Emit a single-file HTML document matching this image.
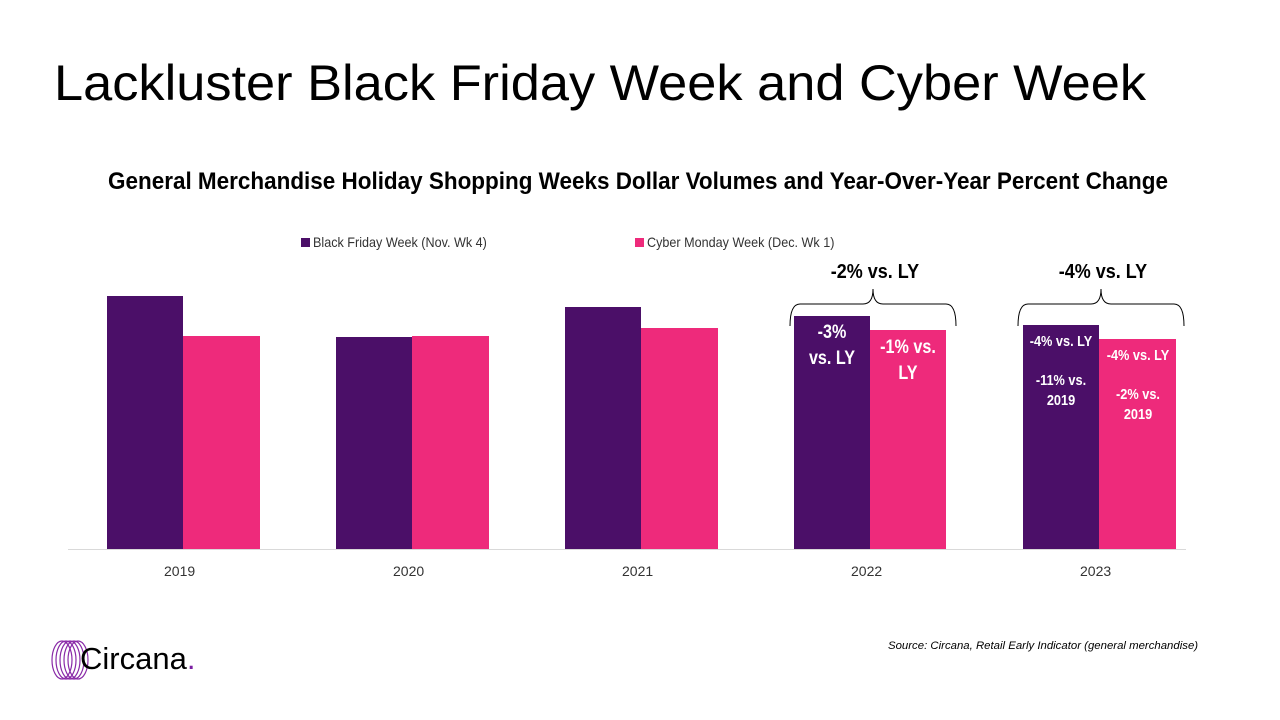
<!DOCTYPE html>
<html><head><meta charset="utf-8"><style>
body{margin:0;width:1280px;height:720px;background:#fff;position:relative;overflow:hidden;font-family:"Liberation Sans",sans-serif}
.t{position:absolute;white-space:nowrap}
.bar{position:absolute}
.p{background:#4b0f68}.k{background:#ee2a7b}
.lab{position:absolute;color:#fff;font-weight:bold;text-align:center;transform:scaleX(0.85)}
</style></head><body>
<div class="t" style="left:54px;top:54px;font-size:50px;color:#000;transform:scaleX(1.047);transform-origin:0 0">Lackluster Black Friday Week and Cyber Week</div>
<div class="t" style="left:0;width:1276px;text-align:center;top:168px;font-size:24px;font-weight:bold;transform:scaleX(0.936);transform-origin:638px 0">General Merchandise Holiday Shopping Weeks Dollar Volumes and Year-Over-Year Percent Change</div>
<div class="bar p" style="left:301px;top:238px;width:9px;height:9px"></div>
<div class="t" style="left:313px;top:234px;font-size:14px;color:#333;transform:scaleX(0.9);transform-origin:0 0">Black Friday Week (Nov. Wk 4)</div>
<div class="bar k" style="left:635px;top:238px;width:9px;height:9px"></div>
<div class="t" style="left:647px;top:234px;font-size:14px;color:#333;transform:scaleX(0.9);transform-origin:0 0">Cyber Monday Week (Dec. Wk 1)</div>
<div class="bar" style="left:68px;top:549px;width:1118px;height:1px;background:#d9d9d9"></div>
<div class="bar p" style="left:107px;top:296px;width:76px;height:253px"></div>
<div class="bar k" style="left:183px;top:336px;width:77px;height:213px"></div>
<div class="bar p" style="left:336px;top:337px;width:76px;height:212px"></div>
<div class="bar k" style="left:412px;top:336px;width:77px;height:213px"></div>
<div class="bar p" style="left:565px;top:307px;width:76px;height:242px"></div>
<div class="bar k" style="left:641px;top:328px;width:77px;height:221px"></div>
<div class="bar p" style="left:794px;top:316px;width:76px;height:233px"></div>
<div class="bar k" style="left:870px;top:330px;width:76px;height:219px"></div>
<div class="bar p" style="left:1023px;top:325px;width:76px;height:224px"></div>
<div class="bar k" style="left:1099px;top:339px;width:77px;height:210px"></div>
<div class="t" style="left:164px;top:563px;font-size:14px;color:#333">2019</div>
<div class="t" style="left:393px;top:563px;font-size:14px;color:#333">2020</div>
<div class="t" style="left:622px;top:563px;font-size:14px;color:#333">2021</div>
<div class="t" style="left:851px;top:563px;font-size:14px;color:#333">2022</div>
<div class="t" style="left:1080px;top:563px;font-size:14px;color:#333">2023</div>
<div class="lab" style="left:789px;width:86px;top:320px;font-size:19px;line-height:26px">-3%<br>vs. LY</div>
<div class="lab" style="left:865px;width:86px;top:335px;font-size:19px;line-height:26px">-1% vs.<br>LY</div>
<div class="lab" style="left:1016px;width:90px;top:333px;font-size:15px;line-height:18px">-4% vs. LY</div>
<div class="lab" style="left:1016px;width:90px;top:371px;font-size:15px;line-height:20px">-11% vs.<br>2019</div>
<div class="lab" style="left:1093px;width:90px;top:347px;font-size:15px;line-height:18px">-4% vs. LY</div>
<div class="lab" style="left:1093px;width:90px;top:385px;font-size:15px;line-height:20px">-2% vs.<br>2019</div>
<svg style="position:absolute;left:0;top:0" width="1280" height="720">
<path d="M790 326 Q790 304 800 304 L863 304 Q873 304 873 289 Q873 304 883 304 L946 304 Q956 304 956 326" fill="none" stroke="#000" stroke-width="1"/>
<path d="M1018 326 Q1018 304 1028 304 L1091 304 Q1101 304 1101 289 Q1101 304 1111 304 L1174 304 Q1184 304 1184 326" fill="none" stroke="#000" stroke-width="1"/>
<g fill="none" stroke="#8a2ba8" stroke-width="1.2">
<ellipse cx="62" cy="660" rx="10" ry="19"/><ellipse cx="66" cy="660" rx="10" ry="19"/><ellipse cx="70" cy="660" rx="10" ry="19"/><ellipse cx="74" cy="660" rx="10" ry="19"/><ellipse cx="78" cy="660" rx="10" ry="19"/></g>
</svg>
<div class="t" style="left:826px;top:261px;width:94px;text-align:center;font-size:20px;font-weight:bold;transform:scaleX(0.9)">-2% vs. LY</div>
<div class="t" style="left:1054px;top:261px;width:94px;text-align:center;font-size:20px;font-weight:bold;transform:scaleX(0.9)">-4% vs. LY</div>
<div class="t" style="left:80px;top:641px;font-size:31px;color:#000">Circana<span style="color:#7b1fa2">.</span></div>
<div class="t" style="left:888px;top:640px;font-size:11px;font-style:italic;color:#000;transform:scaleX(1.035);transform-origin:0 0">Source: Circana, Retail Early Indicator (general merchandise)</div>
</body></html>
